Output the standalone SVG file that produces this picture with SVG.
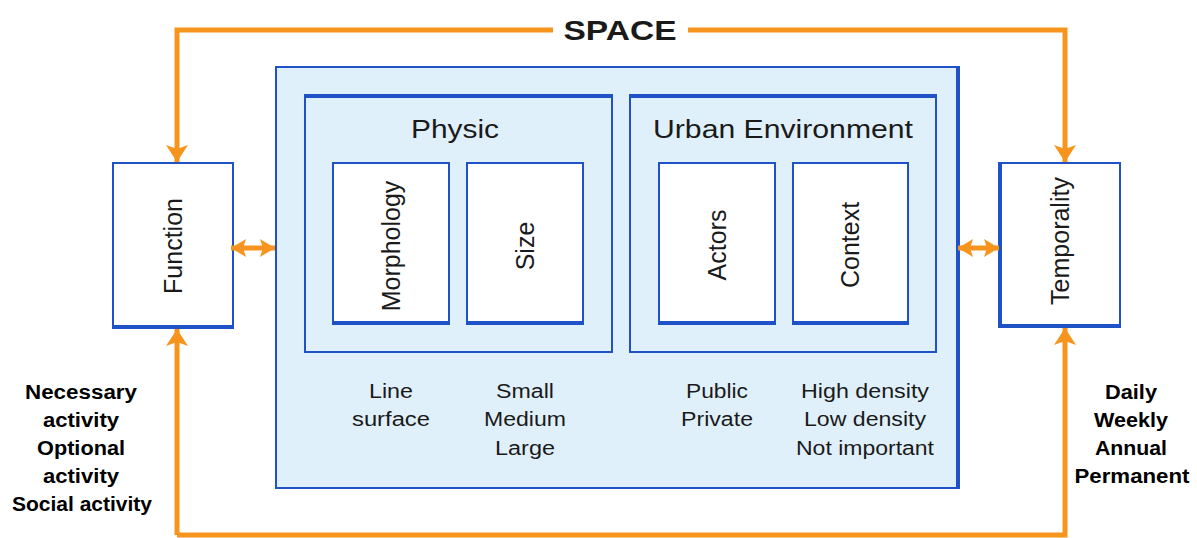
<svg xmlns="http://www.w3.org/2000/svg" width="1197" height="538" viewBox="0 0 1197 538">
<defs>
<style>
.box{stroke:#1f52c6;stroke-width:2}
.thick{stroke:#1f52c6;stroke-width:4;fill:none}
.orange{stroke:#f7941d;stroke-width:5;fill:none}
.t{font-family:"Liberation Sans",Arial,sans-serif;fill:#1a1a1a;text-anchor:middle}
.title{font-size:25px}
.rot{font-size:25px}
.lbl{font-size:20px}
.bold{font-size:20px;font-weight:bold;fill:#000}
</style>
<marker id="ah" viewBox="0 0 18 24" markerWidth="18" markerHeight="24" refX="17" refY="12" orient="auto" markerUnits="userSpaceOnUse">
<path d="M0,1 L17,12 L0,23 L4,12 Z" fill="#f7941d"/>
</marker>
<marker id="sh" viewBox="0 0 16 20" markerWidth="16" markerHeight="20" refX="15" refY="10" orient="auto" markerUnits="userSpaceOnUse">
<path d="M0,1 L15,10 L0,19 L3,10 Z" fill="#f7941d"/>
</marker>
<marker id="shs" viewBox="0 0 16 20" markerWidth="16" markerHeight="20" refX="1" refY="10" orient="auto" markerUnits="userSpaceOnUse">
<path d="M16,1 L1,10 L16,19 L13,10 Z" fill="#f7941d"/>
</marker>
</defs>
<rect width="1197" height="538" fill="#ffffff"/>

<g id="outer">
<rect class="box" x="276" y="67" width="682" height="421" fill="#e0f0fb"/>
<line class="thick" x1="958" y1="66" x2="958" y2="489"/>
</g>

<g id="physic">
<rect class="box" x="305" y="95" width="307" height="257" fill="#e0f0fb"/>
<line class="thick" x1="304" y1="96" x2="613" y2="96"/>
<text class="t title" x="455" y="138" textLength="88" lengthAdjust="spacingAndGlyphs">Physic</text>
</g>

<g id="urban">
<rect class="box" x="630" y="95" width="306" height="257" fill="#e0f0fb"/>
<line class="thick" x1="629" y1="96" x2="937" y2="96"/>
<text class="t title" x="783" y="138" textLength="260" lengthAdjust="spacingAndGlyphs">Urban Environment</text>
</g>

<g id="morphology">
<rect class="box" x="333" y="163" width="116" height="161" fill="#ffffff"/>
<line class="thick" x1="332" y1="323" x2="450" y2="323"/>
<text class="t rot" transform="translate(400,246) rotate(-90)">Morphology</text>
</g>

<g id="size">
<rect class="box" x="467" y="163" width="116" height="161" fill="#ffffff"/>
<line class="thick" x1="466" y1="323" x2="584" y2="323"/>
<text class="t rot" transform="translate(534,246) rotate(-90)">Size</text>
</g>

<g id="actors">
<rect class="box" x="659" y="163" width="116" height="161" fill="#ffffff"/>
<line class="thick" x1="658" y1="323" x2="776" y2="323"/>
<text class="t rot" transform="translate(726,245) rotate(-90)">Actors</text>
</g>

<g id="context">
<rect class="box" x="793" y="163" width="115" height="161" fill="#ffffff"/>
<line class="thick" x1="792" y1="323" x2="909" y2="323"/>
<text class="t rot" transform="translate(859,245) rotate(-90)">Context</text>
</g>

<g id="function">
<rect class="box" x="113" y="163" width="120" height="165" fill="#ffffff"/>
<line class="thick" x1="112" y1="327" x2="234" y2="327"/>
<text class="t rot" transform="translate(182,246) rotate(-90)">Function</text>
</g>

<g id="temporality">
<rect class="box" x="999" y="163" width="121" height="164" fill="#ffffff"/>
<line class="thick" x1="998" y1="326" x2="1121" y2="326"/>
<line class="thick" x1="1000" y1="162" x2="1000" y2="328"/>
<text class="t rot" transform="translate(1069,241) rotate(-90)">Temporality</text>
</g>

<g id="labels">
<text class="t lbl" x="391" y="398" textLength="44" lengthAdjust="spacingAndGlyphs">Line</text>
<text class="t lbl" x="391" y="426" textLength="78" lengthAdjust="spacingAndGlyphs">surface</text>
<text class="t lbl" x="525" y="398" textLength="58" lengthAdjust="spacingAndGlyphs">Small</text>
<text class="t lbl" x="525" y="426" textLength="82" lengthAdjust="spacingAndGlyphs">Medium</text>
<text class="t lbl" x="525" y="455" textLength="60" lengthAdjust="spacingAndGlyphs">Large</text>
<text class="t lbl" x="717" y="398" textLength="62" lengthAdjust="spacingAndGlyphs">Public</text>
<text class="t lbl" x="717" y="426" textLength="72" lengthAdjust="spacingAndGlyphs">Private</text>
<text class="t lbl" x="865" y="398" textLength="128" lengthAdjust="spacingAndGlyphs">High density</text>
<text class="t lbl" x="865" y="426" textLength="122" lengthAdjust="spacingAndGlyphs">Low density</text>
<text class="t lbl" x="865" y="455" textLength="138" lengthAdjust="spacingAndGlyphs">Not important</text>
</g>

<g id="function-notes">
<text class="t bold" x="81" y="399" textLength="112" lengthAdjust="spacingAndGlyphs">Necessary</text>
<text class="t bold" x="81" y="427" textLength="76" lengthAdjust="spacingAndGlyphs">activity</text>
<text class="t bold" x="81" y="455" textLength="88" lengthAdjust="spacingAndGlyphs">Optional</text>
<text class="t bold" x="81" y="483" textLength="76" lengthAdjust="spacingAndGlyphs">activity</text>
<text class="t bold" x="82" y="511" textLength="140" lengthAdjust="spacingAndGlyphs">Social activity</text>
</g>

<g id="temporality-notes">
<text class="t bold" x="1131" y="399" textLength="52" lengthAdjust="spacingAndGlyphs">Daily</text>
<text class="t bold" x="1131" y="427" textLength="74" lengthAdjust="spacingAndGlyphs">Weekly</text>
<text class="t bold" x="1131" y="455" textLength="72" lengthAdjust="spacingAndGlyphs">Annual</text>
<text class="t bold" x="1132" y="483" textLength="115" lengthAdjust="spacingAndGlyphs">Permanent</text>
</g>

<g id="connectors">
<polyline class="orange" points="553,30 177,30 177,162" marker-end="url(#ah)"/>
<polyline class="orange" points="688,30 1065,30 1065,162" marker-end="url(#ah)"/>
<polyline class="orange" points="177,535 177,329" marker-end="url(#ah)"/>
<polyline class="orange" points="177,535 1065,535 1065,328" marker-end="url(#ah)"/>
<line class="orange" x1="231" y1="248" x2="275" y2="248" marker-start="url(#shs)" marker-end="url(#sh)"/>
<line class="orange" x1="958" y1="248" x2="999" y2="248" marker-start="url(#shs)" marker-end="url(#sh)"/>
</g>

<g id="space">
<text class="t" x="620" y="40" font-size="28" font-weight="bold" fill="#000" textLength="113" lengthAdjust="spacingAndGlyphs">SPACE</text>
</g>
</svg>
